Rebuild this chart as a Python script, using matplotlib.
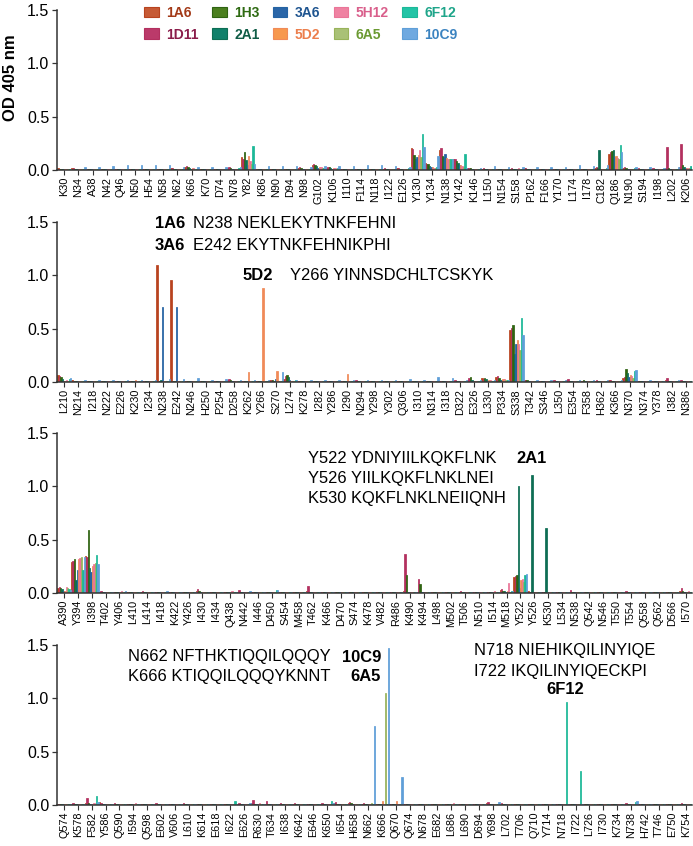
import numpy as np
import matplotlib.pyplot as plt
from matplotlib.patches import Patch

plt.rcParams['font.family'] = ['Liberation Sans', 'DejaVu Sans']

antibodies = ["1A6", "1D11", "1H3", "2A1", "3A6", "5D2", "5H12", "6A5", "6F12", "10C9"]
bar_colors = ["#b8431f", "#b3305f", "#2f6412", "#0d6e54", "#2463a3",
              "#f08a58", "#ea7598", "#98b35a", "#1cb898", "#5f9fd8"]
patch_colors = ["#c65a35", "#bb3a6a", "#4b7f1f", "#10806a", "#2a66a8",
                "#f7984e", "#ef82a2", "#a9c176", "#22c4a6", "#6fa9e0"]
text_colors = ["#a33a18", "#8a1c4a", "#2e6a12", "#0f5c46", "#1f5590",
               "#ec7e4c", "#d95f8b", "#6b9a32", "#1fa58a", "#3b83c0"]

# ---- panel 1: K30 .. K206 ----
p1_labels = ("K30 N34 A38 N42 Q46 N50 H54 N58 N62 K66 K70 D74 N78 Y82 K86 N90 D94 N98 G102 K106 "
             "I110 F114 N118 I122 E126 Y130 Y134 N138 Y142 K146 L150 N154 S158 P162 F166 Y170 "
             "L174 I178 C182 Q186 N190 S194 I198 L202 K206").split()
p1_1A6 = [.02, .02, .01, .01, .01, .01, .01, .01, .02, .03, .01, .01, .02, .125, .01, .01, .01, .02, .05, .02,
          .01, .01, .01, .01, .02, .21, .07, .19, .10, .02, .01, .01, .01, .02, .01, .01, .01, .01, .02, .15,
          .02, .01, .01, .02, .03]
p1_1D11 = [.01, .02, .01, .01, .01, .01, .01, .01, .02, .04, .01, .01, .03, .10, .01, .01, .01, .03, .06, .03,
           .01, .01, .01, .02, .02, .20, .06, .21, .10, .02, .02, .01, .02, .02, .01, .01, .01, .01, .03, .17,
           .03, .02, .02, .22, .24]
p1_1H3 = [.01, .01, .01, .01, .01, .01, .01, .01, .01, .03, .01, .01, .02, .165, .01, .01, .01, .02, .05, .03,
          .01, .01, .01, .01, .01, .14, .06, .13, .08, .02, .01, .01, .01, .01, .01, .01, .01, .01, .02, .18,
          .02, .01, .01, .02, .05]
p1_2A1 = [.01, .01, .01, .01, .01, .01, .01, .01, .01, .02, .01, .01, .01, .09, .01, .01, .01, .01, .04, .02,
          .01, .01, .01, .01, .01, .10, .04, .12, .07, .01, .01, .01, .01, .01, .01, .01, .01, .01, .19, .19,
          .01, .01, .01, .01, .03]
p1_3A6 = [.01, .01, .01, .01, .01, .01, .01, .01, .01, .01, .01, .01, .01, .05, .01, .01, .01, .01, .02, .01,
          .01, .01, .01, .01, .01, .12, .03, .15, .05, .01, .01, .01, .01, .01, .01, .01, .01, .01, .01, .12,
          .01, .01, .01, .01, .02]
p1_5D2 = [.01, .01, .01, .01, .01, .01, .01, .01, .01, .02, .01, .01, .01, .135, .01, .01, .01, .01, .03, .02,
          .01, .01, .01, .01, .01, .14, .03, .11, .05, .01, .01, .01, .01, .01, .01, .01, .01, .01, .01, .13,
          .01, .01, .01, .01, .02]
p1_5H12 = [.01, .01, .01, .01, .01, .01, .01, .01, .01, .02, .01, .01, .01, .08, .01, .01, .01, .01, .03, .02,
           .01, .01, .01, .01, .01, .19, .02, .10, .04, .01, .01, .01, .02, .01, .01, .01, .01, .01, .01, .11,
           .01, .01, .01, .01, .02]
p1_6A5 = [.01, .01, .01, .01, .01, .01, .01, .01, .01, .01, .01, .01, .01, .06, .01, .01, .01, .01, .02, .01,
          .01, .01, .01, .01, .01, .12, .02, .10, .03, .01, .01, .01, .01, .01, .01, .01, .01, .01, .01, .10,
          .01, .01, .01, .01, .02]
p1_6F12 = [.01, .01, .01, .01, .01, .01, .01, .01, .01, .01, .01, .01, .02, .225, .01, .01, .01, .01, .02, .02,
           .01, .01, .01, .01, .02, .34, .03, .10, .15, .01, .01, .01, .01, .01, .01, .01, .01, .01, .02, .23,
           .02, .01, .01, .01, .04]
p1_10C9 = [.01, .03, .03, .04, .05, .05, .05, .05, .03, .03, .03, .03, .03, .06, .04, .04, .04, .03, .04, .04,
           .04, .05, .05, .04, .03, .22, .13, .10, .02, .02, .04, .03, .03, .03, .03, .03, .05, .04, .05, .17,
           .03, .03, .02, .03, .07]

# ---- panel 2: L210 .. N386 ----
p2_labels = ("L210 N214 I218 N222 E226 K230 I234 N238 E242 N246 H250 P254 D258 K262 Y266 S270 L274 K278 "
             "I282 Y286 I290 N294 Y298 Y302 Q306 I310 N314 I318 D322 E326 L330 P334 S338 T342 S346 L350 "
             "E354 F358 H362 K366 N370 N374 Y378 I382 N386").split()
p2_1A6 = [.07, .02, .01, .01, .01, .01, .01, 1.10, .96, .01, .01, .01, .02, .01, .01, .02, .03, .01, .01, .01,
          .01, .01, .01, .01, .01, .01, .01, .01, .01, .02, .04, .05, .49, .02, .01, .01, .02, .01, .01, .02,
          .04, .01, .01, .02, .01]
p2_1D11 = [.06, .01, .01, .01, .01, .01, .01, .01, .01, .01, .01, .01, .03, .01, .01, .02, .06, .01, .01, .01,
           .01, .02, .01, .01, .01, .01, .01, .01, .02, .04, .03, .06, .51, .02, .01, .02, .03, .01, .02, .02,
           .05, .01, .01, .04, .02]
p2_1H3 = [.05, .01, .01, .01, .01, .01, .01, .01, .01, .01, .01, .01, .02, .01, .01, .02, .07, .01, .01, .01,
          .01, .01, .01, .01, .01, .01, .01, .01, .01, .05, .04, .04, .53, .02, .01, .01, .01, .02, .01, .01,
          .12, .01, .01, .01, .01]
p2_2A1 = [.03, .01, .01, .01, .01, .01, .01, .02, .01, .01, .01, .01, .01, .01, .01, .01, .05, .01, .01, .01,
          .01, .01, .01, .01, .01, .01, .01, .01, .01, .02, .03, .02, .26, .01, .01, .01, .01, .01, .01, .01,
          .08, .01, .01, .01, .01]
p2_3A6 = [.01, .01, .01, .01, .01, .01, .01, .70, .70, .01, .01, .01, .01, .01, .01, .03, .02, .01, .01, .01,
          .01, .01, .01, .01, .01, .01, .01, .01, .01, .01, .01, .02, .36, .01, .01, .01, .01, .01, .01, .01,
          .05, .01, .01, .01, .01]
p2_5D2 = [.01, .01, .01, .01, .01, .02, .01, .01, .01, .01, .01, .01, .01, .09, .88, .10, .01, .01, .01, .01,
          .075, .01, .01, .01, .01, .01, .01, .01, .01, .01, .02, .03, .39, .01, .01, .01, .01, .01, .01, .01,
          .07, .01, .01, .01, .01]
p2_5H12 = [.02, .01, .01, .01, .01, .01, .01, .01, .01, .01, .01, .01, .01, .01, .01, .01, .01, .01, .01, .01,
           .01, .01, .01, .01, .01, .01, .01, .01, .01, .01, .02, .03, .36, .01, .01, .01, .01, .01, .01, .01,
           .06, .01, .01, .01, .01]
p2_6A5 = [.01, .01, .01, .01, .01, .01, .01, .01, .01, .01, .01, .01, .01, .01, .01, .01, .01, .01, .01, .01,
          .01, .01, .01, .01, .01, .01, .01, .01, .01, .01, .01, .02, .30, .01, .01, .01, .01, .01, .01, .01,
          .04, .01, .01, .01, .01]
p2_6F12 = [.03, .01, .01, .01, .01, .01, .01, .01, .01, .01, .01, .01, .01, .01, .01, .01, .02, .01, .01, .01,
           .01, .01, .01, .01, .01, .01, .01, .01, .01, .01, .01, .02, .60, .01, .01, .01, .01, .01, .01, .01,
           .10, .01, .01, .01, .01]
p2_10C9 = [.04, .02, .02, .02, .02, .02, .02, .03, .03, .04, .02, .03, .02, .02, .02, .09, .02, .02, .02, .02,
           .02, .02, .02, .02, .03, .02, .05, .04, .02, .02, .02, .02, .44, .02, .02, .02, .02, .02, .02, .02,
           .11, .02, .01, .02, .02]

# ---- panel 3: A390 .. I570 ----
p3_labels = ("A390 Y394 I398 T402 Y406 L410 L414 I418 K422 Y426 I430 I434 Q438 N442 I446 D450 S454 M458 "
             "T462 K466 D470 S474 K478 V482 R486 K490 K494 L498 M502 T506 N510 I514 M518 Y522 Y526 K530 "
             "L534 N538 Q542 N546 T550 T554 Q558 Q562 D566 I570").split()
p3_1A6 = [.05, .29, .35, .01, .01, .01, .01, .01, .01, .01, .02, .01, .01, .01, .01, .01, .01, .01, .02, .01,
          .01, .01, .01, .01, .01, .02, .01, .01, .01, .01, .01, .01, .03, .15, .02, .01, .01, .01, .01, .01,
          .01, .01, .01, .01, .01, .02]
p3_1D11 = [.06, .30, .34, .02, .01, .01, .02, .01, .01, .01, .04, .01, .01, .03, .01, .01, .01, .01, .07, .01,
           .01, .01, .01, .01, .01, .37, .13, .01, .01, .02, .01, .01, .04, .16, .01, .01, .01, .03, .01, .01,
           .01, .02, .01, .01, .01, .05]
p3_1H3 = [.05, .32, .59, .01, .01, .01, .01, .01, .01, .01, .02, .01, .01, .01, .01, .01, .01, .01, .01, .01,
          .01, .01, .01, .01, .01, .17, .08, .01, .01, .01, .01, .01, .02, .17, .01, .01, .01, .01, .01, .01,
          .01, .01, .01, .01, .01, .02]
p3_2A1 = [.04, .12, .23, .01, .01, .01, .01, .01, .01, .01, .01, .01, .01, .01, .01, .01, .01, .01, .01, .01,
          .01, .01, .01, .01, .01, .01, .01, .01, .01, .01, .01, .01, .02, 1.00, 1.11, .61, .01, .01, .01, .01,
          .01, .01, .01, .01, .01, .01]
p3_3A6 = [.02, .22, .20, .01, .01, .01, .01, .01, .01, .01, .01, .01, .01, .01, .01, .01, .01, .01, .01, .01,
          .01, .01, .01, .01, .01, .01, .01, .01, .01, .01, .01, .01, .01, .05, .01, .01, .01, .01, .01, .01,
          .01, .01, .01, .01, .01, .01]
p3_5D2 = [.02, .32, .25, .01, .01, .01, .01, .01, .01, .01, .01, .01, .01, .01, .01, .01, .01, .01, .01, .01,
          .01, .01, .01, .01, .01, .01, .01, .01, .01, .01, .01, .01, .02, .12, .01, .01, .01, .01, .01, .01,
          .01, .01, .01, .01, .01, .01]
p3_5H12 = [.06, .33, .27, .01, .02, .01, .01, .01, .01, .01, .01, .01, .02, .01, .01, .01, .01, .01, .01, .01,
           .01, .01, .01, .01, .01, .01, .01, .01, .01, .01, .01, .02, .09, .13, .01, .01, .01, .01, .01, .01,
           .01, .01, .01, .01, .01, .02]
p3_6A5 = [.05, .34, .28, .01, .01, .01, .01, .01, .01, .01, .01, .01, .01, .01, .01, .01, .01, .01, .01, .01,
          .01, .01, .01, .01, .01, .01, .01, .01, .01, .01, .01, .01, .01, .10, .01, .01, .01, .01, .01, .01,
          .01, .01, .01, .01, .01, .01]
p3_6F12 = [.04, .22, .36, .01, .01, .01, .01, .01, .01, .01, .01, .01, .01, .01, .01, .03, .01, .01, .01, .01,
           .01, .01, .01, .01, .01, .01, .01, .01, .01, .01, .01, .01, .02, .17, .01, .01, .01, .01, .01, .01,
           .01, .01, .01, .01, .01, .01]
p3_10C9 = [.03, .34, .27, .01, .02, .01, .01, .02, .01, .01, .01, .01, .01, .02, .01, .03, .01, .01, .01, .01,
           .01, .01, .01, .01, .01, .01, .01, .01, .01, .01, .01, .01, .02, .18, .01, .01, .01, .01, .01, .01,
           .01, .01, .01, .01, .01, .01]

# ---- panel 4: Q574 .. K754 ----
p4_labels = ("Q574 K578 F582 Y586 Q590 I594 Q598 E602 V606 L610 K614 E618 I622 E626 R630 T634 I638 K642 "
             "E646 K650 I654 H658 N662 K666 Q670 Q674 N678 E682 L686 L690 D694 Y698 L702 T706 Q710 Y714 "
             "N718 I722 L726 I730 K734 N738 H742 T746 E750 K754").split()
p4_1A6 = [.01, .01, .02, .03, .01, .01, .01, .01, .01, .01, .01, .01, .01, .01, .02, .01, .01, .01, .01, .01,
          .02, .02, .01, .01, .01, .01, .01, .01, .01, .01, .01, .02, .01, .01, .01, .01, .01, .01, .01, .01,
          .01, .01, .01, .01, .01, .01]
p4_1D11 = [.01, .02, .07, .02, .02, .01, .01, .02, .01, .02, .01, .01, .01, .02, .05, .04, .02, .02, .01, .02,
           .03, .03, .02, .01, .01, .01, .01, .01, .01, .01, .01, .03, .02, .01, .01, .01, .01, .01, .01, .01,
           .01, .02, .01, .01, .01, .02]
p4_1H3 = [.01, .01, .02, .01, .01, .01, .01, .01, .01, .01, .01, .01, .01, .01, .01, .01, .01, .01, .01, .01,
          .01, .02, .01, .01, .01, .01, .01, .01, .01, .01, .01, .01, .01, .01, .01, .01, .01, .01, .01, .01,
          .01, .01, .01, .01, .01, .01]
p4_2A1 = [.01, .01, .01, .01, .01, .01, .01, .01, .01, .01, .01, .01, .01, .01, .01, .01, .01, .01, .01, .01,
          .01, .01, .01, .01, .01, .01, .01, .01, .01, .01, .01, .01, .01, .01, .01, .01, .01, .01, .01, .01,
          .01, .01, .01, .01, .01, .01]
p4_3A6 = [.01, .01, .01, .01, .01, .01, .01, .01, .01, .01, .01, .01, .01, .01, .01, .01, .01, .01, .01, .01,
          .01, .01, .01, .01, .01, .01, .01, .01, .01, .01, .01, .01, .01, .01, .01, .01, .01, .01, .01, .01,
          .01, .01, .01, .01, .01, .01]
p4_5D2 = [.01, .01, .01, .01, .01, .01, .01, .01, .01, .01, .01, .01, .01, .01, .01, .01, .01, .01, .01, .01,
          .01, .01, .01, .04, .04, .01, .01, .01, .01, .01, .01, .01, .01, .01, .01, .01, .01, .01, .01, .01,
          .01, .01, .01, .01, .01, .01]
p4_5H12 = [.01, .01, .02, .01, .01, .02, .01, .01, .01, .01, .01, .01, .01, .01, .02, .01, .01, .01, .01, .01,
           .01, .01, .01, .01, .01, .01, .01, .01, .02, .01, .01, .01, .01, .01, .01, .01, .01, .01, .01, .01,
           .01, .01, .01, .01, .01, .01]
p4_6A5 = [.01, .01, .01, .01, .01, .01, .01, .01, .01, .01, .01, .01, .01, .01, .01, .01, .01, .01, .01, .01,
          .01, .01, .02, 1.05, .01, .01, .01, .01, .01, .01, .01, .01, .01, .01, .01, .01, .01, .01, .01, .01,
          .01, .01, .01, .01, .01, .01]
p4_6F12 = [.01, .01, .085, .01, .01, .01, .01, .01, .01, .01, .01, .01, .04, .01, .01, .01, .01, .01, .01, .04,
           .01, .01, .01, .01, .01, .01, .01, .01, .01, .01, .01, .01, .01, .01, .01, .01, .97, .32, .01, .01,
           .01, .03, .01, .01, .01, .01]
p4_10C9 = [.01, .01, .03, .01, .01, .01, .01, .01, .01, .01, .01, .01, .01, .02, .01, .01, .01, .01, .01, .02,
           .01, .01, .74, 1.47, .26, .01, .01, .01, .01, .01, .01, .03, .01, .01, .01, .01, .01, .01, .01, .01,
           .01, .04, .01, .01, .01, .01]

panels = [
    (p1_labels, [p1_1A6, p1_1D11, p1_1H3, p1_2A1, p1_3A6, p1_5D2, p1_5H12, p1_6A5, p1_6F12, p1_10C9], 170),
    (p2_labels, [p2_1A6, p2_1D11, p2_1H3, p2_2A1, p2_3A6, p2_5D2, p2_5H12, p2_6A5, p2_6F12, p2_10C9], 382),
    (p3_labels, [p3_1A6, p3_1D11, p3_1H3, p3_2A1, p3_3A6, p3_5D2, p3_5H12, p3_6A5, p3_6F12, p3_10C9], 593),
    (p4_labels, [p4_1A6, p4_1D11, p4_1H3, p4_2A1, p4_3A6, p4_5D2, p4_5H12, p4_6A5, p4_6F12, p4_10C9], 805),
]

W, H = 693, 846
fig = plt.figure(figsize=(W / 100, H / 100), dpi=100)

for labels, vals, y0 in panels:
    ax = fig.add_axes([57 / W, 1 - y0 / H, 635 / W, 160 / H])
    x = np.arange(len(labels))
    for k in range(len(antibodies)):
        ax.bar(x + (k - 4.5) * 0.1, vals[k], width=0.1, color=bar_colors[k],
               edgecolor=bar_colors[k], linewidth=0.55)
    ax.set_xlim(-0.52, len(labels) - 0.58)
    ax.set_ylim(0, 1.5)
    ax.set_yticks([0, 0.5, 1.0, 1.5])
    ax.set_yticklabels(["0.0", "0.5", "1.0", "1.5"], fontsize=11.5)
    ax.set_xticks(x)
    ax.set_xticklabels(labels, rotation=90, fontsize=7.8)
    ax.tick_params(axis='x', length=3.5, width=0.8, pad=1.5, color="#333333")
    ax.tick_params(axis='y', length=3.5, width=0.9, pad=2, color="#333333")
    for s in ["top", "right"]:
        ax.spines[s].set_visible(False)
    for s in ["left", "bottom"]:
        ax.spines[s].set_linewidth(1.1)
        ax.spines[s].set_color("#333333")

fig.text(11 / W, 1 - 78 / H, "OD 405 nm", rotation=90, fontsize=12, fontweight="bold",
         ha="center", va="center")


def label(px, py, s, bold=False, ha="left"):
    fig.text(px / W, 1 - py / H, s, fontsize=11.9, ha=ha, va="center",
             fontweight="bold" if bold else "normal")


label(155, 223, "1A6", bold=True)
label(193, 223, "N238 NEKLEKYTNKFEHNI")
label(155, 245, "3A6", bold=True)
label(193, 245, "E242 EKYTNKFEHNIKPHI")
label(243, 275, "5D2", bold=True)
label(290, 275, "Y266 YINNSDCHLTCSKYK")

label(308, 458, "Y522 YDNIYIILKQKFLNK")
label(516, 458, "2A1", bold=True)
label(308, 478, "Y526 YIILKQKFLNKLNEI")
label(308, 498, "K530 KQKFLNKLNEIIQNH")

label(128, 657, "N662 NFTHKTIQQILQQQY")
label(128, 676, "K666 KTIQQILQQQYKNNT")
label(381, 657, "10C9", bold=True, ha="right")
label(381, 676, "6A5", bold=True, ha="right")
label(474, 651, "N718 NIEHIKQILINYIQE")
label(474, 671, "I722 IKQILINYIQECKPI")
label(565, 690, "6F12", bold=True, ha="center")

handles = [Patch(facecolor=patch_colors[k], edgecolor=bar_colors[k], linewidth=0.8)
           for k in range(len(antibodies))]
leg = fig.legend(handles, antibodies, ncol=5, loc="upper left",
                 bbox_to_anchor=(144 / W, 1 - 6 / H), frameon=False, borderpad=0,
                 borderaxespad=0, handlelength=1.05, handleheight=0.8, handletextpad=0.55,
                 columnspacing=0.95, labelspacing=0.55,
                 prop={"weight": "bold", "size": 10})
for t, c in zip(leg.get_texts(), text_colors):
    t.set_color(c)

fig.savefig("out.png", dpi=100)
